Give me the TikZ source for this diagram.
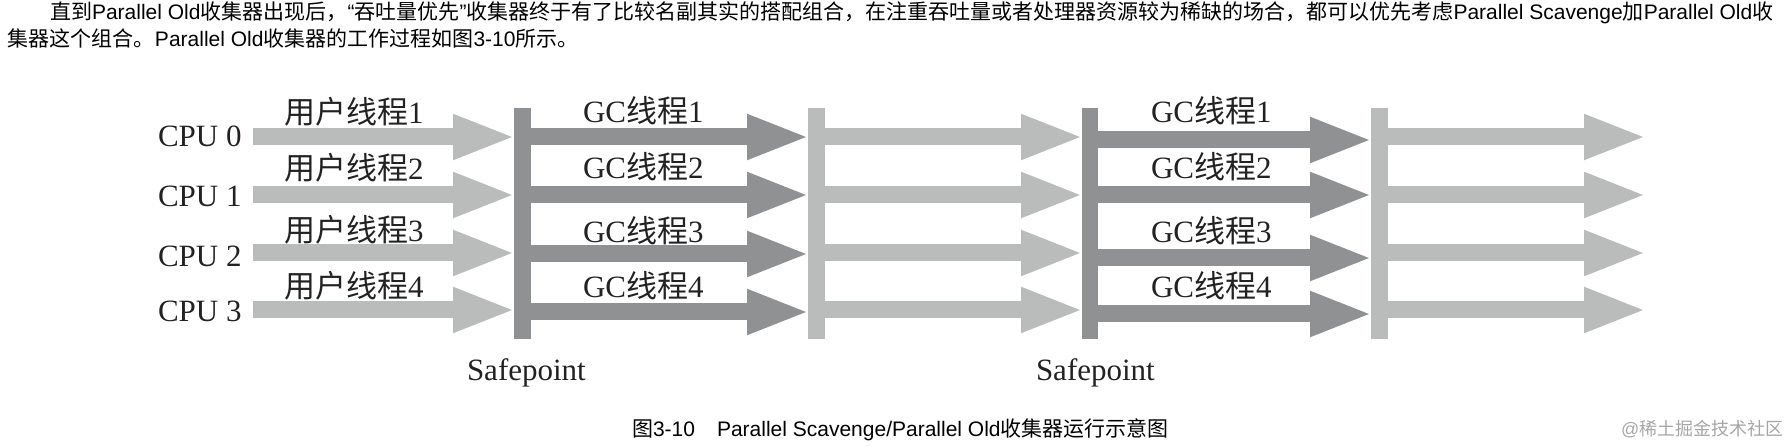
\documentclass[tikz,border=0pt]{standalone}
\usepackage{fontspec}
\usetikzlibrary{arrows.meta}
\setmainfont{Liberation Sans}
\newfontfamily\serifmain{Liberation Serif}
\newfontfamily\cjk{Noto Sans CJK SC}
\newcommand\zh[1]{{\cjk #1}}
\definecolor{lightgr}{HTML}{BABBBB}
\definecolor{darkgr}{HTML}{909192}
\definecolor{inkc}{HTML}{222222}
\tikzset{
  every node/.style={inner sep=0pt,outer sep=0pt},
  para/.style={anchor=base west,text=black,font=\fontsize{21}{24}\selectfont},
  lab/.style={anchor=base west,text=inkc,font=\fontsize{31}{36}\selectfont\serifmain},
  barbox/.style={rectangle,minimum height=231pt,anchor=north west},
  userarrow/.style={draw=lightgr,line width=17pt,shorten >=-2pt,-{Triangle[length=63pt,width=41pt,fill=lightgr]}},
  gcarrow/.style={draw=darkgr,line width=17pt,shorten >=-2pt,-{Triangle[length=63pt,width=41pt,fill=darkgr]}},
}
\begin{document}
\begin{tikzpicture}[x=1pt,y=-1pt]
\useasboundingbox (0,0) rectangle (1786,446);
% paragraph
\node[para] (p1) at (50,20) {\zh{直到}Parallel Old\zh{收集器出现后，}“\zh{吞吐量优先}”\zh{收集器终于有了比较名副其实的搭配组合，在注重吞吐量或者处理器资源较为稀缺的场合，都可以优先考虑}Parallel Scavenge\zh{加}Parallel Old\zh{收}};
\node[para] (p2) at (8,47) {\zh{集器这个组合。}Parallel Old\zh{收集器的工作过程如图}3-10\zh{所示。}};
% safepoint bars
\node[barbox,fill=darkgr,minimum width=17pt] (bar1) at (514,108) {};
\node[barbox,fill=lightgr,minimum width=17pt] (bar2) at (808,108) {};
\node[barbox,fill=darkgr,minimum width=16pt] (bar3) at (1082,108) {};
\node[barbox,fill=lightgr,minimum width=17pt] (bar4) at (1371,108) {};
% CPU labels
\node[lab] (cpu0) at (158,147) {CPU 0};
\node[lab] (cpu1) at (158,207) {CPU 1};
\node[lab] (cpu2) at (158,267) {CPU 2};
\node[lab] (cpu3) at (158,322) {CPU 3};
% row guides
\coordinate (ua) at (252.6,137);
\coordinate (ub) at (252.6,195);
\coordinate (uc) at (252.6,253);
\coordinate (ud) at (252.6,310);
\coordinate (ga) at (0,137);
\coordinate (gb) at (0,195);
\coordinate (gc) at (0,254);
\coordinate (gd) at (0,312);
\coordinate (ha) at (0,140);
\coordinate (hb) at (0,195);
\coordinate (hc) at (0,258);
\coordinate (hd) at (0,314);
\foreach \r in {a,b,c,d}{
  \draw[userarrow] (u\r) -- (bar1.west |- u\r);
  \draw[gcarrow] (bar1.east |- g\r) -- (bar2.west |- g\r);
  \draw[userarrow] (bar2.east |- u\r) -- (bar3.west |- u\r);
  \draw[gcarrow] (bar3.east |- h\r) -- (bar4.west |- h\r);
  \coordinate (endr\r) at (1645,0);
  \draw[userarrow] (bar4.east |- u\r) -- (endr\r |- u\r);
}
% thread labels
\node[lab] (u1) at (284,124) {\zh{用户线程}1};
\node[lab] (u2) at (284,180) {\zh{用户线程}2};
\node[lab] (u3) at (284,242) {\zh{用户线程}3};
\node[lab] (u4) at (284,298) {\zh{用户线程}4};
\node[lab] (g1) at (583,123) {GC\zh{线程}1};
\node[lab] (g2) at (583,179) {GC\zh{线程}2};
\node[lab] (g3) at (583,243) {GC\zh{线程}3};
\node[lab] (g4) at (583,298) {GC\zh{线程}4};
\node[lab] (h1) at (1151,123) {GC\zh{线程}1};
\node[lab] (h2) at (1151,179) {GC\zh{线程}2};
\node[lab] (h3) at (1151,243) {GC\zh{线程}3};
\node[lab] (h4) at (1151,298) {GC\zh{线程}4};
\node[lab] (s1) at (467,380) {Safepoint};
\node[lab] (s2) at (1036,380) {Safepoint};
% caption
\node[para] (cap) at (632,436) {\zh{图}3-10\hspace{22pt}Parallel Scavenge/Parallel Old\zh{收集器运行示意图}};
\node[anchor=base west,text=black!35,font=\fontsize{18}{20}\selectfont] (wm) at (1621,435) {@\zh{稀土掘金技术社区}};
\end{tikzpicture}
\end{document}
